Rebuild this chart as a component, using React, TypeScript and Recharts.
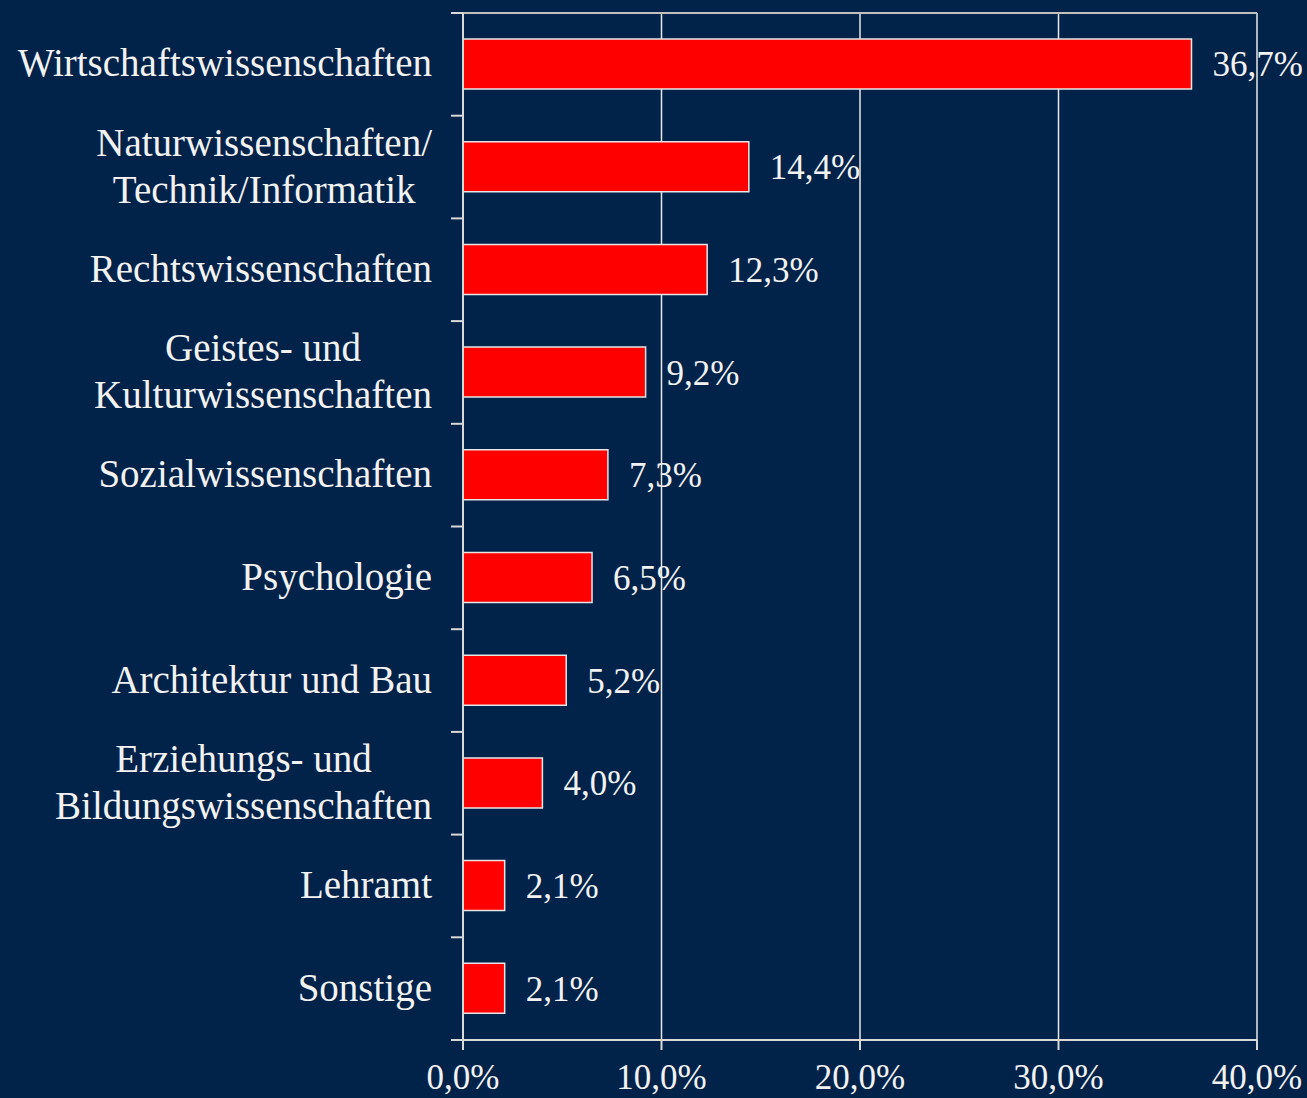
import { BarChart, Bar, XAxis, YAxis, CartesianGrid, LabelList } from "recharts";

const categories = [
  "Wirtschaftswissenschaften",
  "Naturwissenschaften/\nTechnik/Informatik",
  "Rechtswissenschaften",
  "Geistes- und\nKulturwissenschaften",
  "Sozialwissenschaften",
  "Psychologie",
  "Architektur und Bau",
  "Erziehungs- und\nBildungswissenschaften",
  "Lehramt",
  "Sonstige",
];
const shares = [36.7, 14.4, 12.3, 9.2, 7.3, 6.5, 5.2, 4.0, 2.1, 2.1];
const xTicks = [0, 10, 20, 30, 40];

const data = categories.map((name, i) => ({ name, value: shares[i] }));

const W = 1307;
const H = 1098;
const M_TOP = 13;
const M_RIGHT = 50;
const Y_W = 463;
const X_H = 58;
const PLOT_H = H - M_TOP - X_H;
const BAND = PLOT_H / categories.length;

const BG = "#012249";
const TEXT = "#F2F2F2";
const LINE = "#D9D9D9";
const FONT = "'Liberation Serif', 'Times New Roman', serif";
const CAT_SIZE = 39;

const pct = (v: number) => v.toFixed(1).replace(".", ",") + "%";

let ctx: CanvasRenderingContext2D | null = null;
function measure(text: string) {
  if (!ctx) ctx = document.createElement("canvas").getContext("2d");
  if (!ctx) return text.length * CAT_SIZE * 0.45;
  ctx.font = `${CAT_SIZE}px 'Liberation Serif'`;
  return ctx.measureText(text).width;
}

function CategoryTick(props: any) {
  const { y, payload, index } = props;
  const lines = String(payload.value).split("\n");
  const right = Y_W - 31;
  const maxW = Math.max(...lines.map(measure));
  const cx = right - maxW / 2;
  const top = y - BAND / 2;
  return (
    <g>
      <line x1={Y_W - 12} x2={Y_W} y1={top} y2={top} stroke={LINE} strokeWidth={2} />
      {index === categories.length - 1 && (
        <line x1={Y_W - 12} x2={Y_W} y1={y + BAND / 2} y2={y + BAND / 2} stroke={LINE} strokeWidth={2} />
      )}
      {lines.map((ln, i) => (
        <text
          key={i}
          x={cx}
          y={y + (i - (lines.length - 1) / 2) * 47 + 12}
          textAnchor="middle"
          fill={TEXT}
          fontSize={CAT_SIZE}
          fontFamily={FONT}
        >
          {ln}
        </text>
      ))}
    </g>
  );
}

export default function App() {
  return (
    <div style={{ width: W, height: H, background: BG }}>
      <style>{`body{margin:0;background:${BG}}`}</style>
      <BarChart
        width={W}
        height={H}
        data={data}
        layout="vertical"
        margin={{ top: M_TOP, right: M_RIGHT, bottom: 0, left: 0 }}
      >
        <CartesianGrid horizontal={false} stroke="#E8E8E8" strokeWidth={1.5} />
        <CartesianGrid vertical={false} horizontalPoints={[M_TOP]} stroke="#BFBFBF" strokeWidth={2} />
        <XAxis
          type="number"
          domain={[0, 40]}
          ticks={xTicks}
          tickFormatter={pct}
          height={X_H}
          tickSize={10}
          tickMargin={14}
          axisLine={{ stroke: LINE, strokeWidth: 2 }}
          tickLine={{ stroke: LINE, strokeWidth: 2 }}
          tick={{ fill: TEXT, fontSize: 35, fontFamily: FONT }}
        />
        <YAxis
          type="category"
          dataKey="name"
          width={Y_W}
          tickLine={false}
          axisLine={{ stroke: LINE, strokeWidth: 2 }}
          tick={<CategoryTick />}
          interval={0}
        />
        <Bar
          dataKey="value"
          fill="#FF0000"
          stroke="#E6E6E6"
          strokeWidth={1.5}
          barSize={50}
          isAnimationActive={false}
        >
          <LabelList
            dataKey="value"
            position="right"
            offset={21}
            formatter={(v: any) => pct(Number(v))}
            fill={TEXT}
            fontSize={35}
            fontFamily={FONT}
          />
        </Bar>
      </BarChart>
    </div>
  );
}
